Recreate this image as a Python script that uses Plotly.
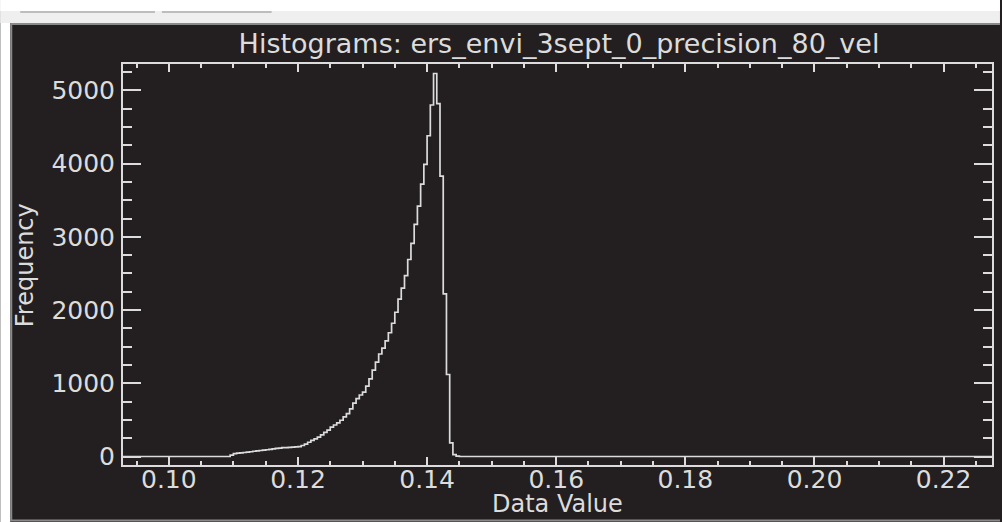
import plotly.graph_objects as go

# ---- data (histogram of data values, bin centres and frequencies) ----
bin_centers = [
    0.0929, 0.10925, 0.10975, 0.11025, 0.11075, 0.11125, 0.11175, 0.11225, 0.11275,
    0.11325, 0.11375, 0.11425, 0.11475, 0.11525, 0.11575, 0.11625, 0.11675,
    0.11725, 0.11775, 0.11825, 0.11875, 0.11925, 0.11975, 0.12025, 0.12075,
    0.12125, 0.12175, 0.12225, 0.12275, 0.12325, 0.12375, 0.12425, 0.12475,
    0.12525, 0.12575, 0.12625, 0.12675, 0.12725, 0.12775, 0.12825, 0.12875,
    0.12925, 0.12975, 0.13025, 0.13075, 0.13125, 0.13175, 0.13225, 0.13275,
    0.13325, 0.13375, 0.13425, 0.13475, 0.13525, 0.13575, 0.13625, 0.13675,
    0.13725, 0.13775, 0.13825, 0.13875, 0.13925, 0.13975, 0.14025, 0.14075,
    0.14125, 0.14175, 0.14225, 0.14275, 0.14325, 0.14375, 0.14425, 0.14475,
    0.14525, 0.2275,
]
frequency = [
    0, 0, 20, 40, 45, 50, 55, 60, 65,
    72, 78, 82, 88, 92, 98, 105, 110,
    115, 120, 122, 125, 128, 132, 136, 150,
    170, 195, 220, 240, 265, 295, 330, 360,
    400, 430, 460, 495, 540, 585, 650, 730,
    790, 840, 880, 960, 1060, 1180, 1290, 1400,
    1480, 1580, 1690, 1820, 1970, 2150, 2300, 2470,
    2690, 2910, 3170, 3420, 3720, 3990, 4380, 4800,
    5230, 4820, 3830, 2220, 1120, 185, 25, 5,
    0, 0,
]
x_ticks = [0.10, 0.12, 0.14, 0.16, 0.18, 0.20, 0.22]
x_tick_labels = ["0.10", "0.12", "0.14", "0.16", "0.18", "0.20", "0.22"]
y_ticks = [0, 1000, 2000, 3000, 4000, 5000]
y_tick_labels = ["0", "1000", "2000", "3000", "4000", "5000"]

title_text = "Histograms: ers_envi_3sept_0_precision_80_vel"
x_title = "Data Value"
y_title = "Frequency"

# ---- style ----
DARK = "#231f20"
FG = "#dcdcdc"
FONT = "DejaVu Sans"
W, H = 1002, 522
L, R, T, B = 123, 994, 64, 465  # plot area in pixels


def pxx(p):
    return (p - L) / (R - L)


def pxy(p):
    return (B - p) / (B - T)


fig = go.Figure()
fig.add_trace(go.Scatter(
    x=bin_centers, y=frequency, mode="lines",
    line=dict(color=FG, width=1.7, shape="hvh"),
    showlegend=False, hoverinfo="x+y",
))

axis_common = dict(
    showgrid=False, zeroline=False, showline=True, linecolor=FG, linewidth=2,
    mirror="ticks", ticks="inside", tickcolor=FG, tickwidth=2,
    tickfont=dict(family=FONT, size=25, color=FG),
)

fig.update_xaxes(
    **axis_common,
    range=[0.0929, 0.2275],
    tickvals=x_ticks, ticktext=x_tick_labels, ticklen=8,
    minor=dict(dtick=0.005, tick0=0.10, ticklen=4, tickcolor=FG, tickwidth=2, ticks="inside"),
    ticklabelstandoff=-9,
)
fig.update_yaxes(
    **axis_common,
    range=[-116, 5360],
    tickvals=y_ticks, ticktext=y_tick_labels, ticklen=18,
    minor=dict(dtick=250, tick0=0, ticklen=9, tickcolor=FG, tickwidth=2, ticks="inside"),
    ticklabelstandoff=1,
)

shapes = [
    # white left margin strip
    dict(type="rect", xref="paper", yref="paper", x0=pxx(0), x1=pxx(10), y0=pxy(0), y1=pxy(H),
         fillcolor="#ffffff", line=dict(width=0)),
    # top light strip
    dict(type="rect", xref="paper", yref="paper", x0=pxx(0), x1=pxx(W), y0=pxy(0), y1=pxy(23),
         fillcolor="#efefef", line=dict(width=0)),
    dict(type="rect", xref="paper", yref="paper", x0=pxx(0), x1=pxx(W), y0=pxy(0), y1=pxy(11),
         fillcolor="#ffffff", line=dict(width=0)),
    # tabs bottom edges
    dict(type="line", xref="paper", yref="paper", x0=pxx(20), x1=pxx(155), y0=pxy(12), y1=pxy(12),
         line=dict(color="#bdbdbd", width=2)),
    dict(type="line", xref="paper", yref="paper", x0=pxx(162), x1=pxx(272), y0=pxy(12), y1=pxy(12),
         line=dict(color="#bdbdbd", width=2)),
    # dark panel border
    dict(type="line", xref="paper", yref="paper", x0=pxx(10), x1=pxx(W), y0=pxy(24), y1=pxy(24),
         line=dict(color="#8a8a8a", width=2)),
    dict(type="line", xref="paper", yref="paper", x0=pxx(11), x1=pxx(11), y0=pxy(24), y1=pxy(521),
         line=dict(color="#8a8a8a", width=2)),
    dict(type="line", xref="paper", yref="paper", x0=pxx(10), x1=pxx(W), y0=pxy(520.5), y1=pxy(520.5),
         line=dict(color="#8a8a8a", width=2)),
]

annotations = [
    dict(text=x_title, xref="paper", yref="paper", x=pxx(559), y=pxy(504),
         xanchor="center", yanchor="middle", showarrow=False,
         font=dict(family=FONT, size=24, color=FG)),
    dict(text=y_title, xref="paper", yref="paper", x=pxx(25), y=pxy(265),
         xanchor="center", yanchor="middle", showarrow=False, textangle=-90,
         font=dict(family=FONT, size=24, color=FG)),
]

fig.update_layout(
    width=W, height=H,
    margin=dict(l=L, r=W - R, t=T, b=H - B, pad=0),
    paper_bgcolor=DARK, plot_bgcolor=DARK,
    title=dict(text=title_text, x=559 / W, xanchor="center", y=1 - 44 / H, yanchor="middle",
               yref="container", xref="container",
               font=dict(family=FONT, size=27, color=FG)),
    shapes=shapes,
    annotations=annotations,
)

fig.write_html("out.html", config={"displayModeBar": False})
